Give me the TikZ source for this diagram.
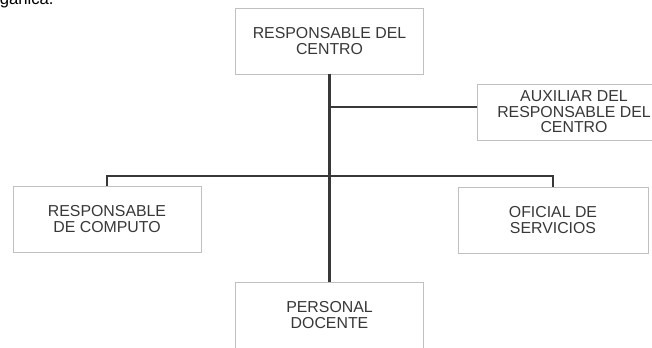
\documentclass[tikz,border=0pt]{standalone}
\usepackage{fontspec}
\setmainfont{Liberation Sans}
\usetikzlibrary{positioning}
\definecolor{ink}  {HTML}{383838}
\definecolor{edge} {HTML}{C0C0C0}
\definecolor{wire} {HTML}{383838}
\tikzset{
  unitbox/.style={draw=edge,line width=0.6pt,fill=white,align=center,text=ink,
    minimum width=141pt,minimum height=49.5pt,inner sep=2pt},
  link/.style={draw=wire,line width=1.6pt}
}

\begin{document}
\begin{tikzpicture}[x=0.75pt,y=0.75pt,font=\fontsize{11.9}{11.6}\selectfont]
  \useasboundingbox (0,0) rectangle (652,-347);
  % body text cut by the top edge
  \node[anchor=base west,inner sep=0pt,font=\fontsize{12.5}{14}\selectfont] (ganica) at (-0.5,-4.5) {ganica.};

  \node[unitbox] (jefe) at (329.5,-41) {RESPONSABLE DEL\\CENTRO};
  \node[unitbox,minimum width=145.5pt,minimum height=42pt] (aux) at (574,-112) {AUXILIAR DEL\\RESPONSABLE DEL\\CENTRO};
  \node[unitbox] (comp) at (107,-219) {RESPONSABLE\\DE COMPUTO};
  \node[unitbox,minimum width=142.5pt] (ofic) at (553,-220) {OFICIAL DE\\SERVICIOS};
  \node[unitbox] (doc) at (329.5,-315) {PERSONAL\\DOCENTE};

  % connectors
  \coordinate (auxjoin) at (329.5,-107);
  \coordinate (barjoin) at (329.5,-176);
  \draw[link] (jefe.south) -- (doc.north);
  \draw[link] (auxjoin) -- (auxjoin -| aux.west);
  \draw[link] (comp.north) |- (barjoin) -| (ofic.north);
\end{tikzpicture}
\end{document}
